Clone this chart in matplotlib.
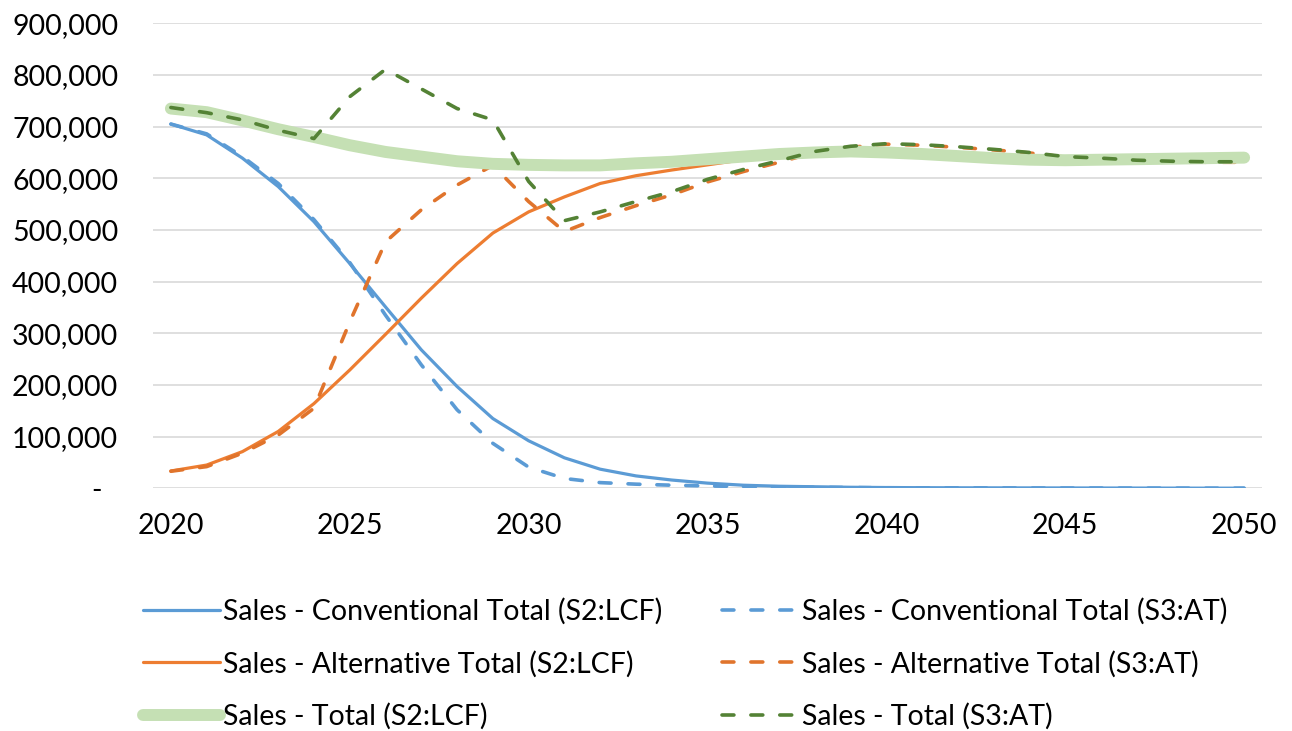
import matplotlib
matplotlib.use("Agg")
import matplotlib.pyplot as plt
import matplotlib.transforms as mtransforms
from matplotlib.ticker import FixedLocator, FuncFormatter

plt.rcParams['font.family'] = ['Lato', 'DejaVu Sans']

years = list(range(2020, 2051))

conv_s2 = [705000, 684000, 639000, 584000, 516000, 435000, 351000, 268000, 197000, 135000,
           92000, 59000, 37000, 24000, 16000, 10000, 6000, 4000, 3000, 2000,
           1500, 1200, 1000, 900, 800, 700, 600, 500, 400, 300, 300]
conv_s3 = [705000, 686000, 642000, 590000, 520000, 437000, 335000, 239000, 152000, 87000,
           41000, 19000, 11000, 8000, 6000, 4500, 3500, 2500, 2000, 1500,
           1000, 900, 800, 700, 600, 500, 500, 400, 400, 300, 300]
alt_s2 = [33500, 45000, 71000, 110000, 164000, 229000, 298000, 368000, 435000, 494000,
          535000, 564000, 590000, 605000, 616000, 626000, 636000, 643000, 647000, 650000,
          648000, 645000, 642000, 638000, 635000, 634000, 635000, 636000, 637000, 638000, 639000]
alt_s3 = [33000, 42000, 68000, 103000, 155000, 322000, 477000, 539000, 587000, 625000,
          555000, 497000, 524000, 547000, 568000, 593000, 613000, 631000, 650000, 660000,
          666000, 664000, 660000, 655000, 649000, 641000, 638000, 634000, 632000, 631000, 631000]
tot_s2 = [735000, 728000, 712000, 695000, 680000, 664000, 651000, 642000, 633000, 628000,
          626000, 625000, 625000, 629000, 632000, 637000, 642000, 647000, 650000, 652000,
          650000, 647000, 643000, 639000, 636000, 635000, 636000, 637000, 638000, 639000, 640000]
tot_s3 = [737000, 727000, 713000, 693000, 677000, 758000, 811000, 773000, 735000, 713000,
          594000, 518000, 535000, 555000, 574000, 598000, 617000, 634000, 652000, 662000,
          667000, 665000, 661000, 656000, 650000, 642000, 639000, 635000, 633000, 632000, 632000]

labels = ["Sales - Conventional Total (S2:LCF)", "Sales - Conventional Total (S3:AT)",
          "Sales - Alternative Total (S2:LCF)", "Sales - Alternative Total (S3:AT)",
          "Sales - Total (S2:LCF)", "Sales - Total (S3:AT)"]

blue = '#5B9BD5'
orange = '#ED7D31'
orange_d = '#E0742C'
green_light = '#C5E0B4'
green_dark = '#548235'

fs = 20.5

fig = plt.figure(figsize=(12.92, 7.31), dpi=100)
ax = fig.add_axes([153 / 1292, 1 - 488.3 / 731, (1262 - 153) / 1292, (488.3 - 23.3) / 731])

lw = 2.3
dash = (3.3, 4.7)
h1, = ax.plot(years, conv_s2, color=blue, lw=lw, solid_capstyle='round', solid_joinstyle='round')
h2, = ax.plot(years, conv_s3, color=blue, lw=2.6, dashes=dash, dash_capstyle='round', dash_joinstyle='round')
h3, = ax.plot(years, alt_s2, color=orange, lw=lw, solid_capstyle='round', solid_joinstyle='round')
h4, = ax.plot(years, alt_s3, color=orange_d, lw=2.6, dashes=dash, dash_capstyle='round', dash_joinstyle='round')
h5, = ax.plot(years, tot_s2, color=green_light, lw=8.6, solid_capstyle='round', solid_joinstyle='round')
h6, = ax.plot(years, tot_s3, color=green_dark, lw=2.6, dashes=dash, dash_capstyle='round', dash_joinstyle='round')

ax.set_xlim(2019.5, 2050.5)
ax.set_ylim(0, 900000)
ax.xaxis.set_major_locator(FixedLocator(range(2020, 2051, 5)))
ax.yaxis.set_major_locator(FixedLocator(range(0, 900001, 100000)))
ax.yaxis.set_major_formatter(FuncFormatter(lambda v, p: '-' if v == 0 else f'{int(v):,}'))
ax.tick_params(axis='both', length=0, labelsize=fs)
ax.tick_params(axis='y', pad=25)
ax.tick_params(axis='x', pad=18)
for s in ax.spines.values():
    s.set_visible(False)
ax.grid(axis='y', color='#D9D9D9', lw=1.2)
ax.set_axisbelow(True)

fig.canvas.draw()
zero_lab = ax.get_yticklabels()[0]
zero_lab.set_transform(zero_lab.get_transform() + mtransforms.ScaledTranslation(-17 / 100, 0, fig.dpi_scale_trans))

# matplotlib fills legend columns first, so order as column 1 then column 2
order = [0, 2, 4, 1, 3, 5]
handles = [h1, h2, h3, h4, h5, h6]
leg = fig.legend([handles[i] for i in order], [labels[i] for i in order], ncol=2, loc='upper left',
                 bbox_to_anchor=(143 / 1292, 1 - 598 / 731), frameon=False, fontsize=fs,
                 handlelength=2.7, handletextpad=0.12, columnspacing=2.08, labelspacing=0.9,
                 borderpad=0, borderaxespad=0)

fig.savefig('out.png', dpi=100)
